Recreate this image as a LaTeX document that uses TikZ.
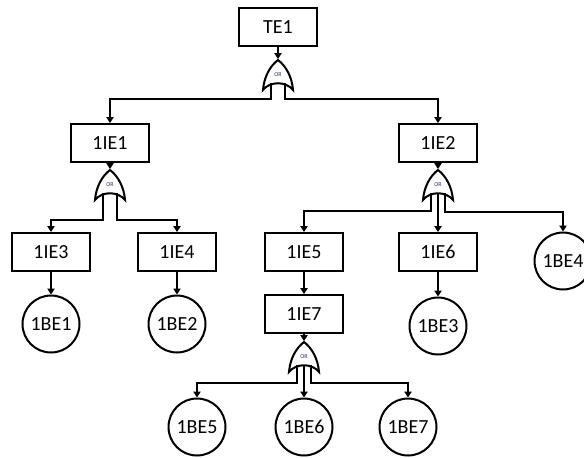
\documentclass[tikz,border=0pt]{standalone}
\usepackage{fontspec}
\setmainfont{Carlito}
\usepackage{tikz}
\usetikzlibrary{arrows.meta, calc, positioning}
\definecolor{orblue}{RGB}{40,50,90}
% outline of an OR gate round a gate node
\newcommand{\orgate}[1]{%
  \draw[gateline] ($(#1)+(-15,15)$) .. controls ($(#1)+(-14,2)$) and ($(#1)+(-8,-9)$) .. ($(#1)+(0,-15)$)
    .. controls ($(#1)+(8,-9)$) and ($(#1)+(14,2)$) .. ($(#1)+(15,15)$)
    .. controls ($(#1)+(8,6)$) and ($(#1)+(-8,6)$) .. cycle;}

\begin{document}
\begin{tikzpicture}[x=0.75pt, y=-0.75pt, >={Triangle[length=4.5pt,width=5.5pt]}, line width=1.5pt,
  eventbox/.style = {rectangle, draw, minimum width=58.5pt, minimum height=28.5pt, font=\fontsize{15}{18}\selectfont},
  basicev/.style = {circle, draw, minimum size=42.75pt, inner sep=0pt, font=\fontsize{15}{18}\selectfont},
  gatestyle/.style = {minimum width=22.5pt, minimum height=22.5pt, inner sep=0pt, font=\fontsize{4.5}{5}\selectfont, text=orblue},
  gateline/.style = {draw, fill=white, line width=1.5pt}]
  \useasboundingbox (0,0) rectangle (584,457);

  % top event
  \node[eventbox] (te1) at (278,27) {TE1};
  \node[gatestyle] (g0) at (278,75) {};
  \orgate{g0}
  \node[gatestyle] at (g0) {OR};

  % intermediate events
  \node[eventbox] (ie1) at (110,143) {1IE1};
  \node[eventbox] (ie2) at (438,143) {1IE2};
  \node[gatestyle] (g1) at (110,185) {};
  \orgate{g1}
  \node[gatestyle] at (g1) {OR};
  \node[gatestyle] (g2) at (438,185) {};
  \orgate{g2}
  \node[gatestyle] at (g2) {OR};

  \node[eventbox] (ie3) at (51,252) {1IE3};
  \node[eventbox] (ie4) at (177,252) {1IE4};
  \node[eventbox] (ie5) at (304,252) {1IE5};
  \node[eventbox] (ie6) at (438,252) {1IE6};
  \node[eventbox] (ie7) at (304,314) {1IE7};
  \node[gatestyle] (g3) at (304,357) {};
  \orgate{g3}
  \node[gatestyle] at (g3) {OR};

  % basic events
  \node[basicev] (be1) at (51,324) {1BE1};
  \node[basicev] (be2) at (177,324) {1BE2};
  \node[basicev] (be3) at (438,326) {1BE3};
  \node[basicev] (be4) at (563,261) {1BE4};
  \node[basicev] (be5) at (197,427) {1BE5};
  \node[basicev] (be6) at (304,427) {1BE6};
  \node[basicev] (be7) at (408,427) {1BE7};

  % arrows
  \draw [->] (te1.south) to (g0.north);
  \draw [->] ($(g0)+(-7,8)$) |- ($(ie1.north)+(0,-24)$) -- (ie1.north);
  \draw [->] ($(g0)+(7,8)$) |- ($(ie2.north)+(0,-24)$) -- (ie2.north);
  \draw [->] (ie1.south) to (g1.north);
  \draw [->] (ie2.south) to (g2.north);
  \draw [->] ($(g1)+(-7,8)$) |- ($(ie3.north)+(0,-12)$) -- (ie3.north);
  \draw [->] ($(g1)+(7,8)$) |- ($(ie4.north)+(0,-12)$) -- (ie4.north);
  \draw [->] ($(g2)+(-7,8)$) |- ($(ie5.north)+(0,-21)$) -- (ie5.north);
  \draw [->] ($(g2)+(0,8)$) -- (ie6.north);
  \draw [->] ($(g2)+(7,8)$) |- ($(be4.north)+(0,-20)$) -- (be4.north);
  \draw [->] (ie3.south) to (be1.north);
  \draw [->] (ie4.south) to (be2.north);
  \draw [->] (ie6.south) to (be3.north);
  \draw [->] (ie5.south) to (ie7.north);
  \draw [->] (ie7.south) to (g3.north);
  \draw [->] ($(g3)+(-7,8)$) |- ($(be5.north)+(0,-15)$) -- (be5.north);
  \draw [->] ($(g3)+(0,8)$) -- (be6.north);
  \draw [->] ($(g3)+(7,8)$) |- ($(be7.north)+(0,-15)$) -- (be7.north);

\end{tikzpicture}
\end{document}
